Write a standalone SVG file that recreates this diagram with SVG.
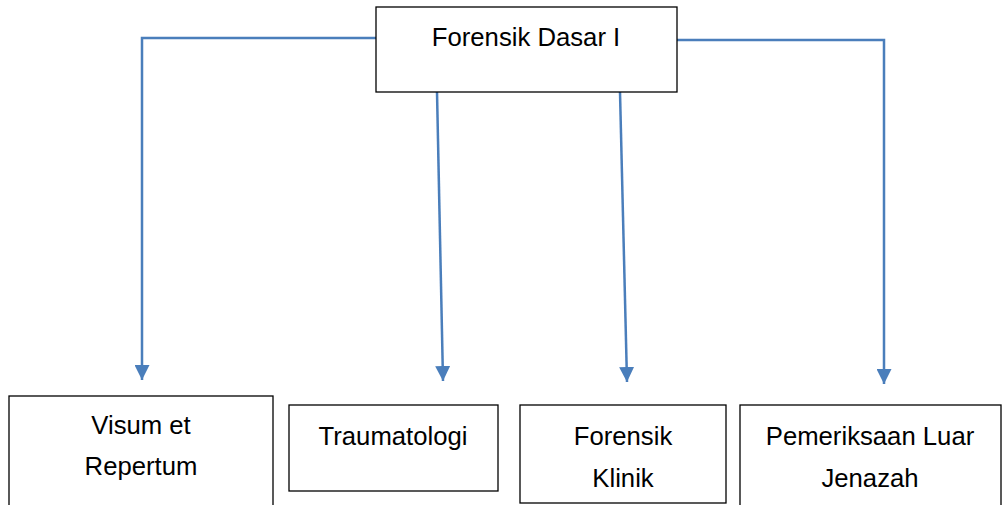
<svg xmlns="http://www.w3.org/2000/svg" width="1005" height="505" viewBox="0 0 1005 505">
<style>
.box{fill:#fff;stroke:#000;stroke-width:1.3}
.t{font-family:"Liberation Sans",Arial,sans-serif;font-size:25.7px;fill:#000;text-anchor:middle}
.c{fill:none;stroke:#4a7ebb;stroke-width:2.5}
</style>
<defs>
<marker id="ah" viewBox="0 0 10 10" refX="10" refY="5" markerWidth="6" markerHeight="6" markerUnits="strokeWidth" orient="auto">
<path d="M0,0 L10,5 L0,10 Z" fill="#4a7ebb"/>
</marker>
</defs>
<rect width="1005" height="505" fill="#fff"/>
<g id="connectors">
<path class="c" d="M376,38 H142 V380" marker-end="url(#ah)"/>
<path class="c" d="M437,92 L443,381" marker-end="url(#ah)"/>
<path class="c" d="M620,92 L627,382" marker-end="url(#ah)"/>
<path class="c" d="M677,40 H884 V384" marker-end="url(#ah)"/>
</g>
<g id="n-forensik-dasar">
<rect class="box" x="376" y="7" width="301" height="85"/>
<text class="t" x="526" y="46">Forensik Dasar I</text>
</g>
<g id="n-visum">
<rect class="box" x="9" y="396" width="264" height="115"/>
<text class="t" x="141" y="434">Visum et</text>
<text class="t" x="141" y="475">Repertum</text>
</g>
<g id="n-traumatologi">
<rect class="box" x="289" y="405" width="209" height="86"/>
<text class="t" x="393" y="445">Traumatologi</text>
</g>
<g id="n-forensik-klinik">
<rect class="box" x="520" y="405" width="206" height="98"/>
<text class="t" x="623" y="445">Forensik</text>
<text class="t" x="623" y="487">Klinik</text>
</g>
<g id="n-pemeriksaan">
<rect class="box" x="740" y="405" width="261" height="110"/>
<text class="t" x="870" y="445">Pemeriksaan Luar</text>
<text class="t" x="870" y="487">Jenazah</text>
</g>
</svg>
